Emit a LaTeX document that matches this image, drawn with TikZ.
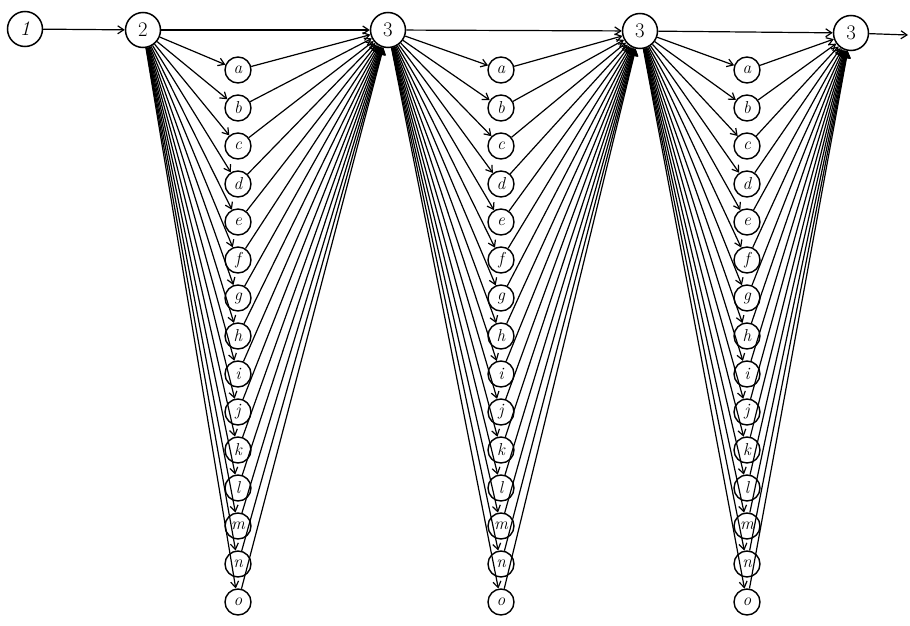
\documentclass[tikz,border=0pt]{standalone}
\usetikzlibrary{arrows.meta}
\begin{document}
\begin{tikzpicture}[x=1pt,y=-1pt,
  num/.style={circle,draw,line width=1.5pt,minimum size=35pt,inner sep=0pt,font=\huge,fill=white},
  let/.style={circle,draw,line width=1.4pt,minimum size=26pt,inner sep=0pt,font=\LARGE\itshape,fill=white},
  edge/.style={line width=1.2pt,-{Straight Barb[length=6pt,width=8pt]}}]
\useasboundingbox (0,0) rectangle (910,626);
\node[num] (n1) at (25,29) {\itshape 1};
\node[num] (n2) at (143,30) {2};
\node[num] (n3a) at (388,30) {3};
\node[num] (n3b) at (640,31) {3};
\node[num] (n3c) at (851,33) {3};
\coordinate (out) at (908,35);
\foreach \c/\x in {1/238,2/501,3/747} {
  \foreach \l [count=\i from 0] in {a,...,o} {
    \node[let] (c\c\l) at (\x,70+38*\i) {\l};
  }
}
\foreach \c/\src/\dst in {1/n2/n3a,2/n3a/n3b,3/n3b/n3c} {
  \foreach \l in {a,...,o} {
    \draw[edge] (\src) -- (c\c\l);
    \draw[edge] (c\c\l) -- (\dst);
  }
}
\draw[edge] (n1) -- (n2);
\draw[edge] (n2) -- (n3a);
\draw[edge] (n3a) -- (n3b);
\draw[edge] (n3b) -- (n3c);
\draw[edge] (n3c) -- (out);
\end{tikzpicture}
\end{document}
